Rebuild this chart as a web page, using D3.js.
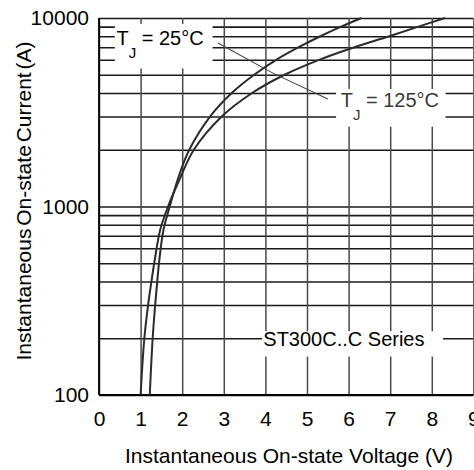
<!DOCTYPE html>
<html>
<head>
<meta charset="utf-8">
<script src="https://cdn.jsdelivr.net/npm/d3@7"></script>
<style>
  html, body { margin: 0; padding: 0; background: #fff; }
  svg { display: block; font-family: "Liberation Sans", Arial, sans-serif; }
</style>
</head>
<body>
<svg id="chart" width="474" height="470"></svg>
<script>
// ---- data ----
const xTicks = [0, 1, 2, 3, 4, 5, 6, 7, 8, 9];
const yTicks = [100, 200, 300, 400, 500, 600, 700, 800, 900,
                1000, 2000, 3000, 4000, 5000, 6000, 7000, 8000, 9000, 10000];
const yLabelTicks = [100, 1000, 10000];

// TJ = 25°C curve: [voltage V, current A]
const v25 = [1.22, 1.29, 1.35, 1.40, 1.45, 1.55, 1.70, 1.91, 2.17, 2.67, 3.19, 3.73, 4.26, 4.80, 5.32, 5.82, 6.31];
const i25 = [100, 200, 300, 400, 520, 750, 1000, 1430, 2000, 3000, 4000, 5000, 6000, 7000, 8000, 9000, 10000];
// TJ = 125°C curve
const v125 = [1.00, 1.09, 1.18, 1.26, 1.34, 1.47, 1.66, 1.96, 2.28, 2.95, 3.68, 4.46, 5.29, 6.14, 6.98, 7.68, 8.32];
const i125 = [100, 200, 300, 400, 520, 750, 1000, 1430, 2000, 3000, 4000, 5000, 6000, 7000, 8000, 9000, 10000];

// ---- layout ----
const svg = d3.select("#chart");
const x = d3.scaleLinear().domain([0, 9]).range([99, 473.4]);
const y = d3.scaleLog().domain([100, 10000]).range([395, 18]);

// horizontal grid via axis
const gy = svg.append("g").attr("transform", `translate(${x(0)},0)`)
  .call(d3.axisLeft(y).tickValues(yTicks).tickSize(-(x(9) - x(0)))
    .tickFormat(d => yLabelTicks.includes(d) ? d3.format("d")(d) : ""));
gy.select(".domain").remove();
gy.selectAll(".tick line").attr("stroke", "#1a1a1a").attr("stroke-width", 1.6);
gy.selectAll(".tick text").attr("x", -10).attr("font-size", 21)
  .attr("fill", "#000").attr("font-family", "Liberation Sans, Arial, sans-serif");

// vertical grid via axis
const gx = svg.append("g").attr("transform", `translate(0,${y(100)})`)
  .call(d3.axisBottom(x).tickValues(xTicks).tickSize(-(y(100) - y(10000))).tickFormat(d3.format("d")));
gx.select(".domain").remove();
gx.selectAll(".tick line").attr("stroke", "#4a4a4a").attr("stroke-width", 1.5);
gx.selectAll(".tick text").attr("y", 16).attr("font-size", 21)
  .attr("fill", "#000").attr("font-family", "Liberation Sans, Arial, sans-serif");

// frame lines (left and bottom axis)
svg.append("line").attr("x1", x(0)).attr("x2", x(0)).attr("y1", y(10000)).attr("y2", y(100))
  .attr("stroke", "#000").attr("stroke-width", 1.8);
svg.append("line").attr("x1", x(0)).attr("x2", x(9)).attr("y1", y(100)).attr("y2", y(100))
  .attr("stroke", "#000").attr("stroke-width", 1.8);

// label background boxes (white, hide grid)
const boxes = [
  {x0: 0.38, x1: 2.73, y0: 9300, y1: 5400},
  {x0: 5.70, x1: 8.33, y0: 4200, y1: 2650},
  {x0: 3.92, x1: 8.27, y0: 218, y1: 160}
];
svg.selectAll("rect.box").data(boxes).enter().append("rect").attr("class", "box")
  .attr("x", d => x(d.x0)).attr("width", d => x(d.x1) - x(d.x0))
  .attr("y", d => y(d.y0)).attr("height", d => y(d.y1) - y(d.y0))
  .attr("fill", "#fff");

// curves
const line = d3.line().x(d => x(d[0])).y(d => y(d[1])).curve(d3.curveCatmullRom.alpha(0.5));
svg.append("path").datum(v25.map((v, i) => [v, i25[i]]))
  .attr("d", line).attr("fill", "none").attr("stroke", "#2b2b2b").attr("stroke-width", 2);
svg.append("path").datum(v125.map((v, i) => [v, i125[i]]))
  .attr("d", line).attr("fill", "none").attr("stroke", "#2b2b2b").attr("stroke-width", 2);

// leader lines
const leaders = [
  [[2.86, 7370], [4.18, 5100]],
  [[4.18, 5100], [5.50, 3718]]
];
leaders.forEach(l => {
  svg.append("line").attr("x1", x(l[0][0])).attr("y1", y(l[0][1]))
    .attr("x2", x(l[1][0])).attr("y2", y(l[1][1]))
    .attr("stroke", "#444").attr("stroke-width", 1.1);
});

// annotations
function tjLabel(vx, iy, temp, color) {
  const t = svg.append("text").attr("x", x(vx)).attr("y", y(iy))
    .attr("font-size", 20).attr("fill", color);
  t.append("tspan").text("T");
  t.append("tspan").attr("dy", 13).attr("dx", 0).attr("font-size", 15).text("J");
  t.append("tspan").attr("dy", -13).text(" = " + temp + "°C");
}
tjLabel(0.42, 7190, "25", "#000");
tjLabel(5.81, 3373, "125", "#3a3a3a");

svg.append("text").attr("x", x(3.95)).attr("y", y(182))
  .attr("font-size", 20).attr("fill", "#000").text("ST300C..C Series");

// axis titles
svg.append("text").attr("x", 289).attr("y", 463)
  .attr("text-anchor", "middle").attr("font-size", 21).attr("fill", "#000")
  .text("Instantaneous On-state Voltage (V)");
svg.append("text").attr("transform", "translate(31,201) rotate(-90)")
  .attr("text-anchor", "middle").attr("font-size", 21).attr("fill", "#000")
  .attr("word-spacing", -3)
  .text("Instantaneous On-state Current (A)");
</script>
</body>
</html>
